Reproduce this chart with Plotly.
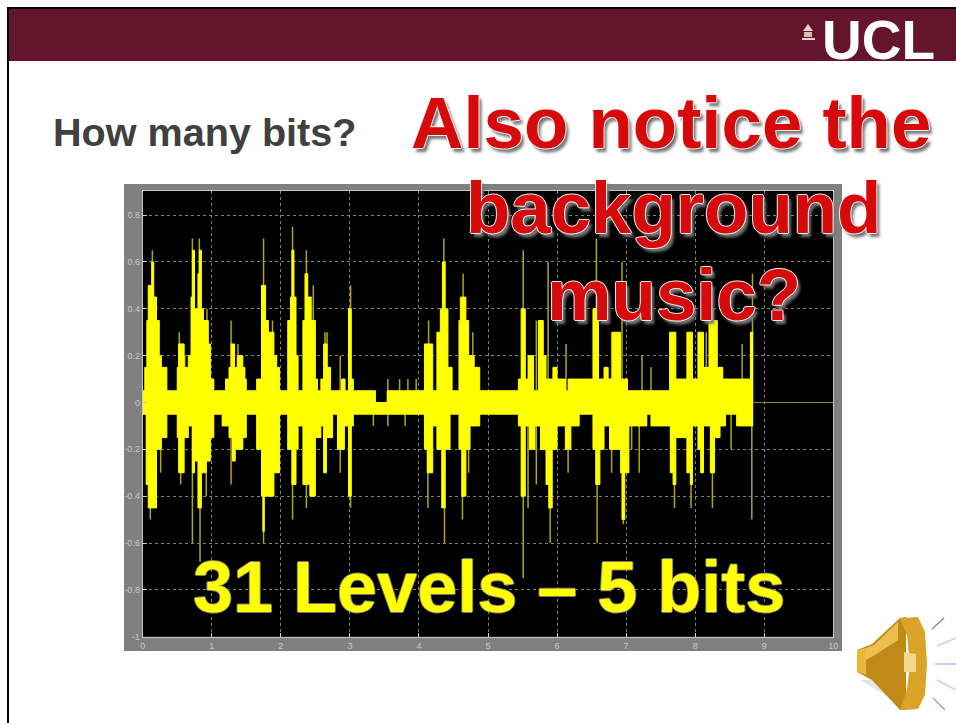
import plotly.graph_objects as go

W, H = 956, 723

# Waveform step envelopes: (x, level)
upper_x = [0.00,0.03,0.06,0.08,0.13,0.16,0.20,0.24,0.27,0.35,0.50,0.52,0.60,0.66,0.70,0.72,0.75,0.80,0.82,0.85,0.88,0.95,0.98,1.03,1.20,1.25,1.28,1.33,1.37,1.45,1.48,1.50,1.65,1.72,1.78,1.82,1.90,1.94,1.98,2.10,2.14,2.16,2.19,2.22,2.25,2.32,2.35,2.39,2.44,2.50,2.53,2.58,2.62,2.67,2.72,2.78,2.84,2.88,2.93,2.98,3.02,3.05,3.37,3.54,4.00,4.08,4.12,4.20,4.26,4.31,4.34,4.38,4.42,4.48,4.58,4.60,4.68,4.72,4.80,4.88,5.44,5.48,5.54,5.58,5.66,5.73,5.80,5.84,5.94,6.00,6.12,6.16,6.28,6.52,6.60,6.68,6.74,6.80,6.92,7.02,7.36,7.63,7.72,7.88,7.96,8.04,8.12,8.20,8.32,8.40,8.80]
upper_y = [0.05,0.15,0.35,0.50,0.60,0.45,0.35,0.20,0.15,0.05,0.15,0.25,0.15,0.20,0.45,0.65,0.40,0.55,0.65,0.40,0.35,0.25,0.10,0.05,0.10,0.15,0.25,0.15,0.20,0.15,0.10,0.05,0.10,0.50,0.35,0.30,0.20,0.15,0.05,0.35,0.45,0.65,0.45,0.20,0.05,0.35,0.55,0.45,0.35,0.10,0.05,0.10,0.25,0.15,0.05,0.05,0.05,0.10,0.05,0.40,0.10,0.05,0.00,0.05,0.05,0.25,0.25,0.05,0.30,0.40,0.60,0.40,0.15,0.05,0.35,0.45,0.35,0.20,0.15,0.05,0.10,0.40,0.10,0.20,0.05,0.35,0.20,0.10,0.15,0.10,0.05,0.10,0.10,0.40,0.10,0.15,0.10,0.30,0.10,0.05,0.05,0.30,0.10,0.30,0.10,0.30,0.15,0.35,0.15,0.10,0.30]
lower_x = [0.00,0.05,0.08,0.20,0.27,0.35,0.50,0.52,0.60,0.66,0.72,0.75,0.78,0.80,0.85,0.92,0.98,1.03,1.15,1.25,1.30,1.34,1.45,1.50,1.65,1.72,1.74,1.76,1.90,1.98,2.10,2.16,2.22,2.25,2.32,2.42,2.50,2.58,2.62,2.66,2.75,2.82,2.92,2.98,3.02,3.05,4.08,4.12,4.20,4.26,4.33,4.38,4.45,4.58,4.62,4.68,4.74,4.88,5.44,5.48,5.54,5.60,5.68,5.76,5.84,5.88,5.93,6.00,6.12,6.20,6.32,6.52,6.56,6.62,6.68,6.76,6.92,6.94,6.98,7.04,7.30,7.36,7.64,7.68,7.72,7.88,7.93,7.96,8.04,8.08,8.12,8.22,8.28,8.36,8.44,8.60,8.80]
lower_y = [-0.05,-0.35,-0.45,-0.20,-0.15,-0.05,-0.15,-0.30,-0.15,-0.10,-0.30,-0.25,-0.25,-0.45,-0.30,-0.25,-0.15,-0.05,-0.10,-0.15,-0.25,-0.20,-0.15,-0.05,-0.20,-0.40,-0.55,-0.40,-0.30,-0.05,-0.20,-0.35,-0.20,-0.10,-0.35,-0.40,-0.15,-0.10,-0.30,-0.15,-0.05,-0.20,-0.10,-0.40,-0.10,-0.05,-0.20,-0.30,-0.10,-0.20,-0.45,-0.20,-0.05,-0.20,-0.40,-0.20,-0.10,-0.05,-0.10,-0.40,-0.10,-0.20,-0.10,-0.20,-0.35,-0.45,-0.20,-0.10,-0.20,-0.10,-0.05,-0.20,-0.35,-0.20,-0.10,-0.20,-0.30,-0.50,-0.30,-0.10,-0.05,-0.10,-0.30,-0.35,-0.15,-0.30,-0.35,-0.10,-0.20,-0.30,-0.10,-0.30,-0.15,-0.10,-0.05,-0.10,-0.10]

# Thin individual peaks
peak_up_x = [0.14,0.53,0.61,0.72,0.82,0.93,1.28,1.38,1.75,1.88,2.17,2.37,2.47,2.64,2.67,2.86,3.01,3.55,3.72,3.84,3.96,4.14,4.36,4.64,4.78,5.51,5.70,5.87,6.13,6.57,6.79,6.94,7.23,7.36,7.68,8.16,8.26,8.68,8.83]
peak_up_y = [0.65,0.30,0.20,0.70,0.70,0.40,0.35,0.25,0.70,0.35,0.75,0.65,0.50,0.30,0.30,0.20,0.50,0.10,0.10,0.10,0.10,0.35,0.70,0.55,0.30,0.65,0.35,0.60,0.25,0.70,0.30,0.60,0.20,0.15,0.30,0.30,0.40,0.25,0.55]
peak_dn_x = [0.11,0.16,0.26,0.55,0.72,0.83,0.92,1.28,1.75,1.88,2.17,2.37,2.46,2.65,2.86,3.01,3.34,3.55,3.80,4.13,4.37,4.63,4.72,5.51,5.58,5.70,5.90,6.16,6.58,6.79,6.96,7.08,7.19,7.70,7.94,8.09,8.25,8.52,8.82]
peak_dn_y = [-0.50,-0.45,-0.30,-0.35,-0.60,-0.68,-0.40,-0.35,-0.60,-0.40,-0.50,-0.45,-0.40,-0.30,-0.30,-0.45,-0.10,-0.10,-0.10,-0.45,-0.60,-0.50,-0.30,-0.75,-0.45,-0.35,-0.60,-0.30,-0.60,-0.30,-0.52,-0.20,-0.30,-0.45,-0.45,-0.30,-0.45,-0.20,-0.50]

# Flat tail after the signal ends
tail_x = [8.84, 10.0]
tail_y = [0.0, 0.0]

x_ticks = [0,1,2,3,4,5,6,7,8,9,10]
y_ticks = [-1,-0.8,-0.6,-0.4,-0.2,0,0.2,0.4,0.6,0.8]
y_labels = ["-1","-0.8","-0.6","-0.4","-0.2","0","0.2","0.4","0.6","0.8"]

title_small = "How many bits?"
title_lines = ["Also notice the", "background", "music?"]
caption = "31 Levels – 5 bits"
logo = "UCL"


def px(x): return x / W
def py(y): return 1 - y / H
def path(pts):
    return "M " + " L ".join(f"{px(a):.5f},{py(b):.5f}" for a, b in pts) + " Z"
def rect(x0, y0, x1, y1, color, layer="below"):
    return dict(type="rect", xref="paper", yref="paper", x0=px(x0), x1=px(x1), y0=py(y0), y1=py(y1),
                fillcolor=color, line_width=0, layer=layer)
def poly(pts, color, layer="above"):
    return dict(type="path", xref="paper", yref="paper", path=path(pts), fillcolor=color, line_width=0, layer=layer)
def seg(x0, y0, x1, y1, color, w=1.5):
    return dict(type="line", xref="paper", yref="paper", x0=px(x0), x1=px(x1), y0=py(y0), y1=py(y1),
                line=dict(color=color, width=w), layer="above")

fig = go.Figure()
sx, sy = [], []
for xs, ys in ((peak_up_x, peak_up_y), (peak_dn_x, peak_dn_y)):
    for a, b in zip(xs, ys):
        sx += [a, a, None]
        sy += [0, b, None]
fig.add_trace(go.Scatter(x=sx, y=sy, mode="lines", line=dict(color="#a8a81c", width=1.5), hoverinfo="skip"))
fig.add_trace(go.Scatter(x=tail_x, y=tail_y, mode="lines", line=dict(color="#8a8a30", width=1), hoverinfo="skip"))
fig.add_trace(go.Scatter(x=lower_x + [8.84], y=lower_y + [lower_y[-1]], mode="lines",
                         line=dict(color="#ffff00", width=1, shape="hv"), hoverinfo="skip"))
fig.add_trace(go.Scatter(x=upper_x + [8.84], y=upper_y + [upper_y[-1]], mode="lines", fill="tonexty",
                         fillcolor="#ffff00", line=dict(color="#ffff00", width=1, shape="hv"), hoverinfo="skip"))

FONT = "Liberation Sans"
red_shadow = ("1px 0 0 #eee,-1px 0 0 #eee,0 1px 0 #eee,0 -1px 0 #eee,3px 4px 3px #777")
yellow_shadow = ("1px 0 0 #777,-1px 0 0 #777,0 1px 0 #777,0 -1px 0 #777")
def label(text, x, baseline, size, color, shadow="none", anchor="left"):
    return dict(text=f"<b>{text}</b>", xref="paper", yref="paper", x=px(x), y=py(baseline - 0.905 * size),
                xanchor=anchor, yanchor="top", showarrow=False, borderpad=0,
                font=dict(family=FONT, size=size, color=color, shadow=shadow))

annotations = [
    label(title_small, 52, 145, 39.6, "#404040"),
    label(title_lines[0], 410, 147, 72.6, "#d60a0a", red_shadow),
    label(title_lines[1], 465, 232, 72.6, "#d60a0a", red_shadow),
    label(title_lines[2], 546, 319, 72.6, "#d60a0a", red_shadow),
    label(caption, 192, 611, 72, "#ffff00", yellow_shadow),
    label(logo, 821, 58, 55, "#ffffff"),
]

shapes = [
    rect(124, 184, 842, 651, "#808080"),
    rect(142.7, 191, 833.3, 636.7, "#000000"),
    rect(9, 9, 956, 61, "#65142d"),
    rect(7, 7, 956, 9, "#000000"),
    rect(7, 7, 9, H, "#000000"),
    # crest
    poly([(808, 24), (813, 31), (803, 31)], "#e8d8c8"),
    poly([(804, 32), (812, 32), (812, 37), (804, 37)], "#d8c0b0"),
    poly([(802, 38), (815, 38), (815, 40), (802, 40)], "#e8d8c8"),
    # loudspeaker
    poly([(860, 680), (885, 695), (905, 710), (915, 710), (905, 680)], "#e4e4e4"),
    poly([(857, 650), (872, 644), (900, 618), (906, 617), (906, 710), (900, 710), (872, 680), (857, 672)], "#c08a18"),
    poly([(866, 648), (874, 645), (898, 622), (898, 640), (875, 655), (866, 660)], "#eabf50"),
    poly([(857, 650), (866, 648), (866, 675), (857, 672)], "#e8b838"),
    poly([(900, 618), (918, 617), (925, 632), (927, 664), (925, 695), (918, 709), (900, 710), (907, 690), (910, 664), (907, 636)], "#d9a428"),
    poly([(904, 652), (916, 654), (916, 672), (904, 672)], "#f0d890"),
    seg(932, 629, 944, 618, "#6f94d0"),
    seg(937, 646, 956, 638, "#c2d2ea"),
    seg(935, 664, 956, 664, "#a9c0e4"),
    seg(937, 680, 956, 690, "#c2d2ea"),
    seg(933, 698, 945, 710, "#8fabdc"),
]

fig.update_layout(
    width=W, height=H, margin=dict(l=0, r=0, t=0, b=0, autoexpand=False), autosize=False,
    paper_bgcolor="#ffffff", plot_bgcolor="#000000", showlegend=False,
    shapes=shapes, annotations=annotations,
    xaxis=dict(domain=[px(142.7), px(833.3)], range=[0, 10], tickvals=x_ticks, ticktext=[str(v) for v in x_ticks],
               showgrid=True, gridcolor="#808080", griddash="dot", gridwidth=1, zeroline=False,
               showline=True, linecolor="#c8c8c8", linewidth=1, mirror=True, ticks="inside", ticklen=4,
               tickcolor="#c8c8c8", tickfont=dict(family=FONT, size=9, color="#c8c8c8")),
    yaxis=dict(domain=[py(636.7), py(191)], range=[-1, 0.903], tickvals=y_ticks, ticktext=y_labels,
               showgrid=True, gridcolor="#808080", griddash="dot", gridwidth=1, zeroline=False,
               showline=True, linecolor="#c8c8c8", linewidth=1, mirror=True, ticks="inside", ticklen=4,
               tickcolor="#c8c8c8", tickfont=dict(family=FONT, size=9, color="#c8c8c8")),
)

fig.write_html("out.html", config={"displayModeBar": False}, post_script="document.body.style.margin='0';")
